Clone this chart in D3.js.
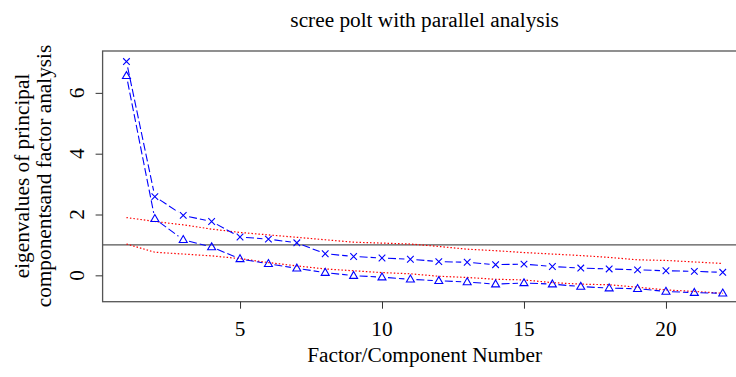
<!DOCTYPE html>
<html><head><meta charset="utf-8">
<script src="https://cdn.jsdelivr.net/npm/d3@7"></script>
<style>body{margin:0;background:#fff;overflow:hidden}svg{display:block}text{font-family:"Liberation Serif","Times New Roman",serif;fill:#000}</style>
</head><body>
<script>
const factorNumbers = d3.range(1, 23);
const pcActual = [7.03,2.59,1.97,1.77,1.26,1.19,1.07,0.71,0.62,0.57,0.53,0.45,0.43,0.35,0.37,0.29,0.24,0.21,0.18,0.15,0.13,0.10];
const faActual = [6.56,1.86,1.17,0.93,0.54,0.38,0.23,0.09,-0.01,-0.06,-0.13,-0.18,-0.22,-0.29,-0.25,-0.29,-0.37,-0.42,-0.44,-0.53,-0.57,-0.59];
const pcSimulated = [1.90,1.77,1.66,1.52,1.41,1.33,1.25,1.17,1.09,1.06,1.03,0.95,0.86,0.81,0.75,0.70,0.65,0.59,0.51,0.49,0.44,0.39];
const faSimulated = [1.03,0.76,0.70,0.64,0.55,0.42,0.31,0.21,0.15,0.09,0.05,-0.03,-0.07,-0.13,-0.15,-0.24,-0.29,-0.31,-0.39,-0.48,-0.53,-0.59];
const xTicks = [5,10,15,20];
const yTicks = [0,2,4,6];
const referenceLine = 1;
const titleText = "scree polt with parallel analysis";
const xLabel = "Factor/Component Number";
const yLabelLines = ["eigenvalues of principal", "componentsand factor analysis"];

const FS = "21.3px";
const W = 736, H = 377;
const svg = d3.select("body").append("svg").attr("width", W).attr("height", H);
const x = d3.scaleLinear().domain([0.16, 22.84]).range([102.6, 746.6]);
const y = d3.scaleLinear().domain([-0.867, 7.377]).range([301.7, 51]);

// box
svg.append("rect").attr("x", x.range()[0]).attr("y", 51).attr("width", x.range()[1]-x.range()[0]).attr("height", 301.7-51)
  .attr("fill","none").attr("stroke","#555").attr("stroke-width",1.3);

// axes (tick marks)
const xa = svg.append("g").attr("transform","translate(0,301.7)")
  .call(d3.axisBottom(x).tickValues(xTicks).tickSize(7).tickFormat(""));
const ya = svg.append("g").attr("transform","translate(102.6,0)")
  .call(d3.axisLeft(y).tickValues(yTicks).tickSize(7).tickFormat(""));
[xa, ya].forEach(g => { g.select(".domain").remove(); g.selectAll("line").attr("stroke","#333"); g.selectAll("text").remove(); });

// tick labels
const fmt = d3.format("d");
svg.append("g").selectAll("text").data(xTicks).join("text")
  .attr("x", d => x(d)).attr("y", 336).attr("text-anchor","middle").style("font-size",FS).text(fmt);
svg.append("g").selectAll("text").data(yTicks).join("text")
  .attr("transform", d => `translate(77,${y(d)}) rotate(-90)`).attr("dy","0.35em")
  .attr("text-anchor","middle").style("font-size",FS).text(fmt);

// reference line
svg.append("line").attr("x1", x.range()[0]).attr("x2", x.range()[1]).attr("y1", y(referenceLine)).attr("y2", y(referenceLine))
  .attr("stroke","#555").attr("stroke-width",1.3);

// simulated
const line = d3.line().x((d,i)=>x(factorNumbers[i])).y(d=>y(d));
[pcSimulated, faSimulated].forEach(s => svg.append("path").attr("d", line(s)).attr("fill","none")
  .attr("stroke","#ff0000").attr("stroke-width",1.2).attr("stroke-dasharray","1.5,2"));

// actual with type="b" gaps
function drawB(vals, marker) {
  const g = svg.append("g");
  const gap = 6;
  for (let i = 0; i < vals.length-1; i++) {
    const x0 = x(factorNumbers[i]), y0 = y(vals[i]), x1 = x(factorNumbers[i+1]), y1 = y(vals[i+1]);
    const dx = x1-x0, dy = y1-y0, L = Math.hypot(dx,dy);
    if (L <= 2*gap) continue;
    const ux = dx/L, uy = dy/L;
    g.append("line").attr("x1", x0+ux*gap).attr("y1", y0+uy*gap).attr("x2", x1-ux*gap).attr("y2", y1-uy*gap)
      .attr("stroke","#0000ff").attr("stroke-width",1.1).attr("stroke-dasharray","8,3");
  }
  vals.forEach((v,i) => {
    const cx = x(factorNumbers[i]), cy = y(v);
    if (marker === "x") {
      const r = 3.3;
      g.append("path").attr("d", `M${cx-r},${cy-r}L${cx+r},${cy+r}M${cx-r},${cy+r}L${cx+r},${cy-r}`)
        .attr("stroke","#0000ff").attr("stroke-width",1.1).attr("fill","none");
    } else {
      const r = 4.2;
      g.append("path").attr("d", `M${cx},${cy-r}L${cx+r*0.95},${cy+r*0.65}L${cx-r*0.95},${cy+r*0.65}Z`)
        .attr("stroke","#0000ff").attr("stroke-width",1.1).attr("fill","none");
    }
  });
}
drawB(pcActual, "x");
drawB(faActual, "tri");

// texts
const cxp = (x.range()[0]+x.range()[1])/2;
svg.append("text").attr("x", cxp).attr("y", 27).attr("text-anchor","middle").style("font-size",FS).text(titleText);
svg.append("text").attr("x", cxp).attr("y", 362).attr("text-anchor","middle").style("font-size",FS).text(xLabel);
const yl = svg.append("text").attr("transform", `translate(0,176) rotate(-90)`).attr("text-anchor","middle").style("font-size",FS);
yl.append("tspan").attr("x",0).attr("y",29).text(yLabelLines[0]);
yl.append("tspan").attr("x",0).attr("y",51).text(yLabelLines[1]);
</script>
</body></html>
